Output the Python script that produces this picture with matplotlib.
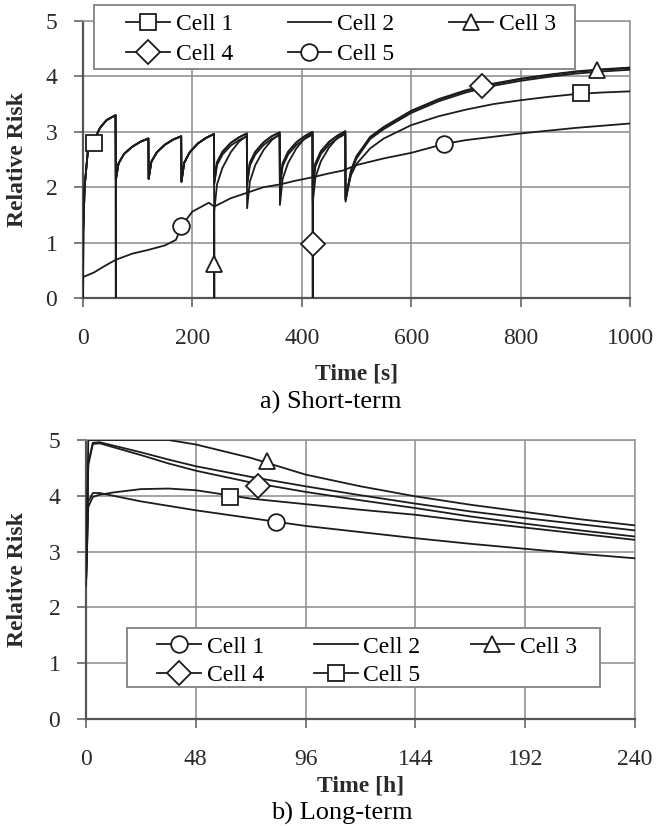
import numpy as np
import matplotlib
matplotlib.use("Agg")
import matplotlib.pyplot as plt
from matplotlib.lines import Line2D
from matplotlib.patches import Rectangle

plt.rcParams['font.family'] = ['Liberation Serif', 'DejaVu Serif']

INK = '#1c1c1c'
GRID = '#8a8a8a'

# ---------------- a) short-term, values ----------------
# upper sawtooth (drop every 60 s), one block per 60 s interval
saw_t = [0, 5, 15, 30, 45, 59.5]
up_60 = [2.13, 2.43, 2.60, 2.73, 2.82, 2.88]
up_120 = [2.15, 2.46, 2.63, 2.77, 2.86, 2.92]
up_180 = [2.10, 2.44, 2.63, 2.79, 2.89, 2.96]
up_240 = [2.10, 2.45, 2.64, 2.80, 2.90, 2.97]
up_300 = [2.08, 2.44, 2.64, 2.81, 2.92, 2.99]
up_360 = [2.05, 2.43, 2.64, 2.81, 2.92, 3.00]
up_420 = [2.05, 2.43, 2.65, 2.82, 2.93, 3.01]
# lower sawtooth after the reset at 240 s
low_240 = [1.57, 2.05, 2.35, 2.63, 2.82, 2.93]
low_300 = [1.62, 2.10, 2.40, 2.67, 2.85, 2.96]
low_360 = [1.68, 2.15, 2.44, 2.70, 2.88, 2.98]
low_420 = [1.72, 2.18, 2.47, 2.72, 2.89, 2.99]

start_t = [0, 0.5, 3, 9, 19, 31, 43, 59.5]
start_v = [0, 1.20, 2.01, 2.67, 2.82, 3.07, 3.21, 3.30]

tail_t = [480, 490, 500, 525, 550, 600, 650, 700, 750, 800, 850, 900, 950, 1000]
tail_high = [1.77, 2.30, 2.55, 2.90, 3.08, 3.37, 3.58, 3.74, 3.86, 3.95, 4.02, 4.08, 4.12, 4.15]
tail_mid = [1.80, 2.22, 2.42, 2.70, 2.88, 3.12, 3.28, 3.40, 3.50, 3.57, 3.63, 3.68, 3.71, 3.73]

cell5_t = [0, 0.5, 20, 40, 60, 90, 120, 150, 170, 180, 200, 230, 240, 270, 300, 330,
           360, 390, 420, 450, 475, 500, 550, 600, 660, 700, 800, 900, 1000]
cell5_v = [0, 0.38, 0.46, 0.58, 0.69, 0.80, 0.87, 0.95, 1.05, 1.30, 1.56, 1.72, 1.65,
           1.80, 1.90, 2.00, 2.05, 2.12, 2.18, 2.25, 2.30, 2.40, 2.52, 2.62, 2.78, 2.85,
           2.97, 3.07, 3.15]

# marker positions (one symbol each half of the run)
mark_a = {
    'Cell 1': ([20, 910], [2.80, 3.70]),
    'Cell 3': ([240, 940], [0.62, 4.12]),
    'Cell 4': ([420, 730], [0.98, 3.82]),
    'Cell 5': ([180, 660], [1.30, 2.78]),
}
sym_a = {'Cell 1': 's', 'Cell 2': None, 'Cell 3': '^', 'Cell 4': 'D', 'Cell 5': 'o'}

# ---------------- b) long-term ----------------
b_t = [0, 1, 3, 6, 12, 24, 36, 48, 72, 96, 120, 144, 168, 192, 216, 240]
b_cell1 = [2.40, 3.90, 4.05, 4.05, 4.00, 3.90, 3.82, 3.74, 3.60, 3.46, 3.35, 3.24, 3.14, 3.05, 2.96, 2.88]
b_cell2 = [2.40, 4.60, 4.95, 4.96, 4.90, 4.78, 4.65, 4.53, 4.34, 4.17, 4.01, 3.86, 3.72, 3.60, 3.49, 3.38]
b_cell4 = [2.40, 4.55, 4.93, 4.94, 4.87, 4.73, 4.58, 4.45, 4.24, 4.07, 3.92, 3.78, 3.63, 3.50, 3.38, 3.27]
b_cell5 = [2.40, 3.80, 3.98, 4.02, 4.06, 4.12, 4.13, 4.10, 3.95, 3.85, 3.75, 3.66, 3.54, 3.43, 3.32, 3.21]
b_cell3 = [2.40, 5.00, 5.00, 5.00, 5.00, 5.00, 5.00, 4.92, 4.68, 4.38, 4.17, 3.99, 3.84, 3.71, 3.58, 3.47]

mark_b = {
    'Cell 1': ([83], [3.53]),
    'Cell 3': ([79], [4.63]),
    'Cell 4': ([75], [4.18]),
    'Cell 5': ([63], [3.97]),
}
sym_b = {'Cell 1': 'o', 'Cell 2': None, 'Cell 3': '^', 'Cell 4': 'D', 'Cell 5': 's'}

cells = ['Cell 1', 'Cell 2', 'Cell 3', 'Cell 4', 'Cell 5']


def saw(blocks, offset=0.0):
    t, v = [], []
    for t0, vals in blocks:
        t += [t0 + s for s in saw_t]
        v += [x + offset for x in vals]
    return t, v


def series_a():
    upper = [(60, up_60), (120, up_120), (180, up_180), (240, up_240),
             (300, up_300), (360, up_360), (420, up_420)]
    t_up, v_up = saw(upper)
    t_low, v_low = saw([(240, low_240), (300, low_300), (360, low_360), (420, low_420)])

    out = {}
    # cell 1: reset to zero at 60 s
    t, v = saw(upper[:3])
    t2, v2 = saw(upper[3:], -0.05)
    out['Cell 1'] = (start_t + [60] + t + t2 + tail_t,
                     start_v + [0] + v + v2 + tail_mid)
    # cell 2: never reset
    out['Cell 2'] = (start_t + t_up + tail_t,
                     start_v + v_up + [x - 0.03 for x in tail_high])
    # cell 3: reset at 240 s, continues on the lower track
    t, v = saw(upper[:3])
    out['Cell 3'] = (start_t + t + [240] + t_low + tail_t,
                     start_v + v + [0] + v_low + tail_high)
    # cell 4: reset at 420 s
    t, v = saw(upper[:6])
    t2, v2 = saw([(420, up_420)])
    out['Cell 4'] = (start_t + t + [420] + t2 + tail_t,
                     start_v + v + [0] + v2 + [x + 0.01 for x in tail_high])
    out['Cell 5'] = (cell5_t, cell5_v)
    return out


def style_axes(ax, xmax, xstep):
    ax.set_xlim(0, xmax)
    ax.set_ylim(0, 5)
    ax.set_xticks(np.arange(0, xmax + 1, xstep))
    ax.set_yticks(range(6))
    ax.grid(True, color=GRID, lw=1.1)
    ax.set_axisbelow(True)
    for side in ['top', 'right']:
        ax.spines[side].set_color('#9a9a9a')
        ax.spines[side].set_linewidth(1.2)
    for side in ['left', 'bottom']:
        ax.spines[side].set_color('#555555')
        ax.spines[side].set_linewidth(1.6)
    ax.tick_params(direction='out', length=6.5, width=1.2, color='#666666',
                   labelsize=17, labelcolor='#2a2a2a')
    ax.tick_params(axis='x', pad=15)
    ax.tick_params(axis='y', pad=12)
    ax.set_ylabel('Relative Risk', fontsize=17, fontweight='bold', color='#2a2a2a')


def legend_handles(sym):
    hs = []
    for c in cells:
        m = sym[c]
        hs.append(Line2D([], [], color=INK, lw=1.3, marker=m if m else None,
                         ms=12, mfc='white', mec=INK, mew=1.3, label=c))
    order = [0, 3, 1, 4, 2]
    return [hs[i] for i in order]


def add_legend(ax, sym, anchor, frame, rowgap, colgap):
    # frame drawn by hand: the original box has wide side margins, tight top/bottom
    x0, y0, x1, y1 = frame
    ax.add_patch(Rectangle((x0, y0), x1 - x0, y1 - y0, transform=ax.transAxes,
                           facecolor='white', edgecolor='#8a8a8a', lw=1.4,
                           clip_on=False, zorder=5))
    leg = ax.legend(handles=legend_handles(sym), ncol=3, loc='upper left',
                    bbox_to_anchor=anchor, fontsize=17, frameon=False,
                    handlelength=1.85, handletextpad=0.25, columnspacing=colgap,
                    labelspacing=rowgap, borderpad=0, borderaxespad=0)
    leg.set_zorder(6)
    return leg


fig = plt.figure(figsize=(6.70, 8.26), dpi=100)
ax1 = fig.add_axes([83 / 670, 1 - 298 / 826, 547 / 670, 277 / 826])
ax2 = fig.add_axes([86 / 670, 1 - 719 / 826, 549 / 670, 279 / 826])

style_axes(ax1, 1000, 200)
for c, (t, v) in series_a().items():
    ax1.plot(t, v, color=INK, lw=1.3, zorder=3)
for c, (mt, mv) in mark_a.items():
    ax1.plot(mt, mv, ls='none', marker=sym_a[c], ms=12, mfc='white', mec=INK,
             mew=1.3, zorder=4, clip_on=False)
ax1.set_xlabel('Time [s]', fontsize=17, fontweight='bold', color='#2a2a2a')
ax1.xaxis.set_label_coords(0.5, -0.235)
ax1.yaxis.set_label_coords(-0.10, 0.5)
add_legend(ax1, sym_a, (0.0786, 1.027), (0.0201, 0.827, 0.8995, 1.058), 0.36, 2.32)

style_axes(ax2, 240, 48)
b_series = {'Cell 1': b_cell1, 'Cell 2': b_cell2, 'Cell 3': b_cell3,
            'Cell 4': b_cell4, 'Cell 5': b_cell5}
for c, v in b_series.items():
    ax2.plot(b_t, v, color=INK, lw=1.3, zorder=3)
for c, (mt, mv) in mark_b.items():
    ax2.plot(mt, mv, ls='none', marker=sym_b[c], ms=12, mfc='white', mec=INK,
             mew=1.3, zorder=4)
ax2.set_xlabel('Time [h]', fontsize=17, fontweight='bold', color='#2a2a2a')
ax2.xaxis.set_label_coords(0.5, -0.204)
ax2.yaxis.set_label_coords(-0.106, 0.5)
add_legend(ax2, sym_b, (0.1293, 0.2975), (0.0747, 0.1147, 0.936, 0.326), 0.3, 2.12)

fig.text(331 / 670, 1 - 402 / 826, 'a) Short-term', fontsize=19, ha='center', va='center')
fig.text(342 / 670, 1 - 813 / 826, 'b) Long-term', fontsize=19, ha='center', va='center')

fig.savefig('out.png', dpi=100)
